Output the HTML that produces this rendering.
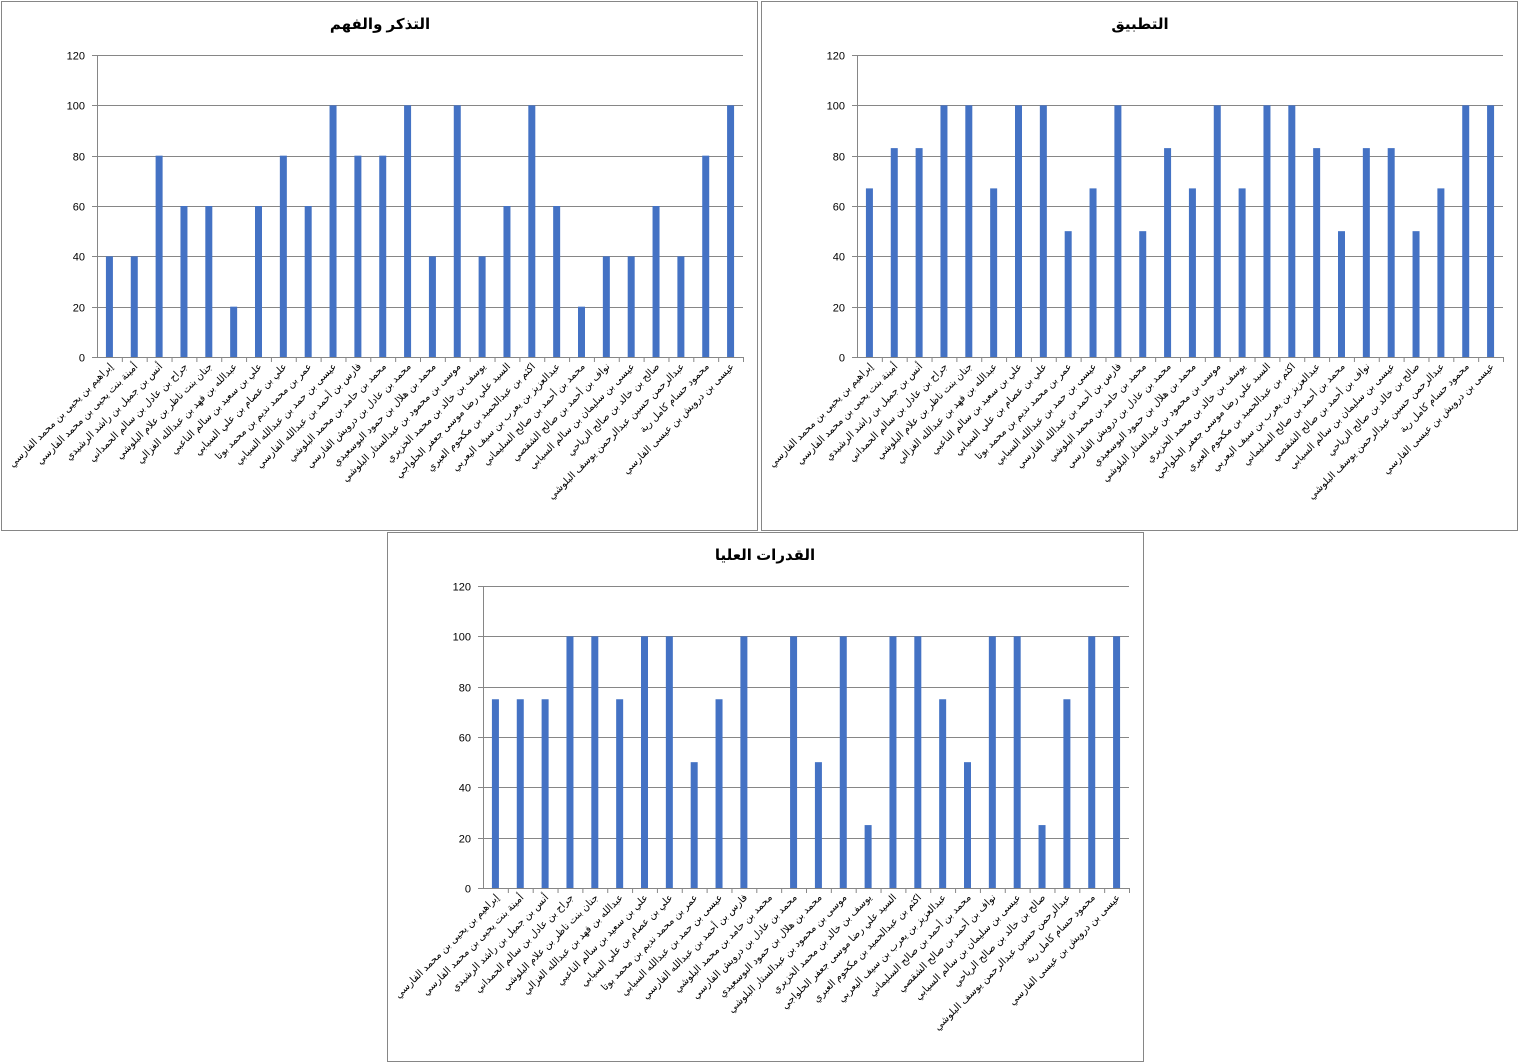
<!DOCTYPE html>
<html><head><meta charset="utf-8">
<style>
html,body{margin:0;padding:0;background:#fff;}
svg{display:block;}
text{font-family:"Liberation Sans","DejaVu Sans",sans-serif;}
</style></head>
<body>
<svg id="s" width="1520" height="1064" xmlns="http://www.w3.org/2000/svg"></svg>
<script>
var names=["إبراهيم بن يحيى بن محمد الفارسي","أمينة بنت يحيى بن محمد الفارسي","أنس بن جميل بن راشد الرشيدي","جراح بن عادل بن سالم الحمداني","جنان بنت ناظر بن علام البلوشي","عبدالله بن فهد بن عبدالله الغزالي","علي بن سعيد بن سالم الناعبي","علي بن عصام بن علي السيابي","عمر بن محمد نديم بن محمد بوتا","عيسى بن حمد بن عبدالله السيابي","فارس بن أحمد بن عبدالله الفارسي","محمد بن حامد بن محمد البلوشي","محمد بن عادل بن درويش الفارسي","محمد بن هلال بن حمود البوسعيدي","موسى بن محمود بن عبدالستار البلوشي","يوسف بن خالد بن محمد الخزيري","السيد علي رضا موسى جعفر الحلواجي","اكثم بن عبدالحميد بن مكحوم العبري","عبدالعزيز بن يعرب بن سيف اليعربي","محمد بن أحمد بن صالح السليماني","نواف بن أحمد بن صالح الشقصي","عيسى بن سليمان بن سالم السيابي","صالح بن خالد بن صالح الرياحي","عبدالرحمن حسين عبدالرحمن يوسف البلوشي","محمود حسام كامل رية","عيسى بن درويش بن عيسى الفارسي"];
var charts=[
 {box:[1,1,756,529],title:"التذكر والفهم",tx:380,ty:29,L:97,R:743,T:55,B:357,
  v:[40,40,80,60,60,20,60,80,60,100,80,80,100,40,100,40,60,100,60,20,40,40,60,40,80,100]},
 {box:[761,1,756,529],title:"التطبيق",tx:1140,ty:29,L:857,R:1503,T:55,B:357,
  v:[67,83,83,100,100,67,100,100,50,67,100,50,83,67,100,67,100,100,83,50,83,83,50,67,100,100]},
 {box:[387,532,756,529],title:"القدرات العليا",tx:765,ty:560,L:483,R:1129,T:586,B:888,
  v:[75,75,75,100,100,75,100,100,50,75,100,0,100,50,100,25,100,100,75,50,100,100,25,75,100,100]}
];
var h="";
charts.forEach(function(c){
 var b=c.box;
 h+='<rect x="'+(b[0]+0.5)+'" y="'+(b[1]+0.5)+'" width="'+b[2]+'" height="'+b[3]+'" fill="#fff" stroke="#868686"/>';
 h+='<text x="'+c.tx+'" y="'+c.ty+'" text-anchor="middle" font-size="15" font-weight="bold" fill="#000">'+c.title+'</text>';
 var ph=c.B-c.T;
 for(var k=0;k<=6;k++){
  var y=Math.round(c.B-ph*k/6)+0.5;
  h+='<line x1="'+(c.L-5)+'" x2="'+c.R+'" y1="'+y+'" y2="'+y+'" stroke="#868686" stroke-width="1"/>';
  h+='<text x="'+(c.L-12)+'" y="'+(y+4)+'" text-anchor="end" font-size="11" fill="#000">'+(k*20)+'</text>';
 }
 h+='<line x1="'+(c.L+0.5)+'" x2="'+(c.L+0.5)+'" y1="'+c.T+'" y2="'+c.B+'" stroke="#868686"/>';
 var n=c.v.length,w=(c.R-c.L)/n;
 for(var i=0;i<n;i++){
  var cx=c.L+w*(i+0.5);
  var bh=ph*c.v[i]/120;
  if(bh>0)h+='<rect x="'+(cx-3.5)+'" y="'+(c.B-bh)+'" width="7" height="'+bh+'" fill="#4472C4"/>';
  var tx=c.L+w*(i+1);
  h+='<line x1="'+(tx+0.5)+'" x2="'+(tx+0.5)+'" y1="'+c.B+'" y2="'+(c.B+5)+'" stroke="#868686"/>';
  h+='<text transform="translate('+(cx+4)+','+(c.B+10)+') rotate(-45)" text-anchor="end" font-size="10" fill="#000">'+names[i]+'</text>';
 }
});
document.getElementById("s").innerHTML=h;
</script>
</body></html>
